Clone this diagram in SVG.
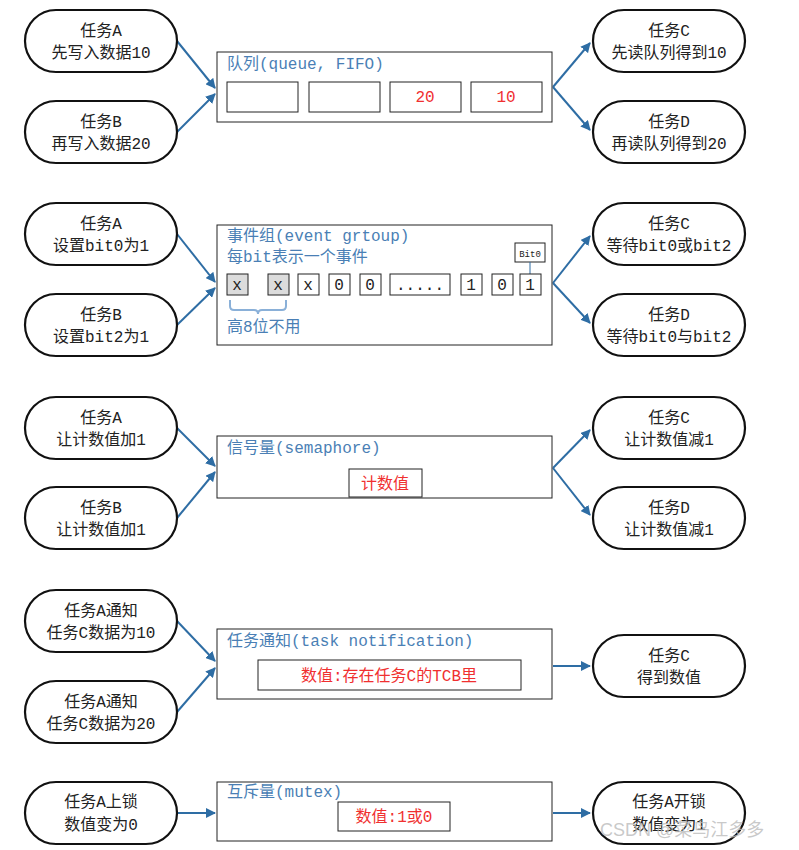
<svg xmlns="http://www.w3.org/2000/svg" width="799" height="850" viewBox="0 0 799 850">
<style>
text{font-family:"Liberation Mono","Noto Sans CJK SC",monospace;}
.n{fill:#fff;stroke:#111;stroke-width:2.2}
.nt{font-size:16px;fill:#222;text-anchor:middle}
.b{fill:#fff;stroke:#222;stroke-width:1}
.t{font-size:16px;fill:#4a7fb5}
.c{fill:#fff;stroke:#222;stroke-width:1}
.g{fill:#dcdcdc;stroke:#222;stroke-width:1}
.ct{font-size:16px;fill:#222;text-anchor:middle}
.r{font-size:16px;fill:#f03030;text-anchor:middle}
.a{stroke:#2e6da4;stroke-width:2;fill:none;marker-end:url(#ah)}
</style>
<defs><marker id="ah" markerWidth="10" markerHeight="10" refX="9" refY="5" orient="auto" markerUnits="userSpaceOnUse"><path d="M0,0 L10,5 L0,10 z" fill="#2e6da4"/></marker></defs>
<rect width="799" height="850" fill="#fff"/>
<g id="connectors">
<path class="a" d="M177,41 L215,88"/><path class="a" d="M177,132 L215,94"/>
<path class="a" d="M553,87 L590,43"/><path class="a" d="M553,87 L590,130"/>
<path class="a" d="M177,234 L215,282"/><path class="a" d="M177,325 L215,288"/>
<path class="a" d="M553,283 L590,236"/><path class="a" d="M553,283 L590,323"/>
<path class="a" d="M177,428 L215,466"/><path class="a" d="M177,518 L215,472"/>
<path class="a" d="M553,468 L590,430"/><path class="a" d="M553,468 L590,515"/>
<path class="a" d="M177,621 L215,661"/><path class="a" d="M177,712 L215,668"/>
<path class="a" d="M553,666 L590,666"/>
<path class="a" d="M177,813 L215,813"/><path class="a" d="M553,813 L590,813"/>
</g>
<g id="n1a"><rect class="n" x="25" y="10" width="152" height="62" rx="31"/><text class="nt" x="101" y="36">任务A</text><text class="nt" x="101" y="58">先写入数据10</text></g>
<g id="n1b"><rect class="n" x="25" y="101" width="152" height="62" rx="31"/><text class="nt" x="101" y="127">任务B</text><text class="nt" x="101" y="149">再写入数据20</text></g>
<g id="n1c"><rect class="n" x="593" y="10" width="152" height="62" rx="31"/><text class="nt" x="669" y="36">任务C</text><text class="nt" x="669" y="58">先读队列得到10</text></g>
<g id="n1d"><rect class="n" x="593" y="101" width="152" height="62" rx="31"/><text class="nt" x="669" y="127">任务D</text><text class="nt" x="669" y="149">再读队列得到20</text></g>
<g id="queue"><rect class="b" x="217" y="52" width="335" height="70"/><text class="t" x="227" y="69">队列(queue, FIFO)</text>
<rect class="c" x="227" y="82" width="71" height="30"/><rect class="c" x="309" y="82" width="71" height="30"/><rect class="c" x="390" y="82" width="71" height="30"/><rect class="c" x="471" y="82" width="71" height="30"/>
<text class="r" x="425" y="102">20</text><text class="r" x="506" y="102">10</text></g>

<g id="n2a"><rect class="n" x="25" y="203" width="152" height="62" rx="31"/><text class="nt" x="101" y="229">任务A</text><text class="nt" x="101" y="251">设置bit0为1</text></g>
<g id="n2b"><rect class="n" x="25" y="294" width="152" height="62" rx="31"/><text class="nt" x="101" y="320">任务B</text><text class="nt" x="101" y="342">设置bit2为1</text></g>
<g id="n2c"><rect class="n" x="593" y="203" width="152" height="62" rx="31"/><text class="nt" x="669" y="229">任务C</text><text class="nt" x="669" y="251">等待bit0或bit2</text></g>
<g id="n2d"><rect class="n" x="593" y="294" width="152" height="62" rx="31"/><text class="nt" x="669" y="320">任务D</text><text class="nt" x="669" y="342">等待bit0与bit2</text></g>
<g id="event"><rect class="b" x="217" y="225" width="335" height="120"/>
<text class="t" x="227" y="241">事件组(event grtoup)</text><text class="t" x="227" y="262">每bit表示一个事件</text>
<rect class="c" x="515" y="243" width="30" height="19"/><text x="530" y="257" font-size="9" text-anchor="middle" fill="#222">Bit0</text>
<line x1="530" y1="262" x2="530" y2="274" stroke="#2e6da4"/>
<rect class="g" x="227" y="274" width="21" height="21"/><rect class="g" x="268" y="274" width="21" height="21"/>
<rect class="c" x="298" y="274" width="21" height="21"/><rect class="c" x="329" y="274" width="21" height="21"/><rect class="c" x="360" y="274" width="21" height="21"/>
<rect class="c" x="390" y="274" width="60" height="21"/><rect class="c" x="461" y="274" width="21" height="21"/><rect class="c" x="492" y="274" width="21" height="21"/><rect class="c" x="520" y="274" width="21" height="21"/>
<text class="ct" x="237" y="290">x</text><text class="ct" x="278" y="290">x</text><text class="ct" x="308" y="290">x</text><text class="ct" x="339" y="290">0</text><text class="ct" x="370" y="290">0</text><text class="ct" x="420" y="290">.....</text><text class="ct" x="471" y="290">1</text><text class="ct" x="502" y="290">0</text><text class="ct" x="530" y="290">1</text>
<path d="M230,300 v6 q0,4 4,4 h20 q4,0 4,4 q0,-4 4,-4 h20 q4,0 4,-4 v-6" stroke="#8ab0d8" stroke-width="2" fill="none"/>
<text class="t" x="227" y="332">高8位不用</text></g>

<g id="n3a"><rect class="n" x="25" y="397" width="152" height="62" rx="31"/><text class="nt" x="101" y="423">任务A</text><text class="nt" x="101" y="445">让计数值加1</text></g>
<g id="n3b"><rect class="n" x="25" y="487" width="152" height="62" rx="31"/><text class="nt" x="101" y="513">任务B</text><text class="nt" x="101" y="535">让计数值加1</text></g>
<g id="n3c"><rect class="n" x="593" y="397" width="152" height="62" rx="31"/><text class="nt" x="669" y="423">任务C</text><text class="nt" x="669" y="445">让计数值减1</text></g>
<g id="n3d"><rect class="n" x="593" y="487" width="152" height="62" rx="31"/><text class="nt" x="669" y="513">任务D</text><text class="nt" x="669" y="535">让计数值减1</text></g>
<g id="sem"><rect class="b" x="217" y="436" width="335" height="62"/><text class="t" x="227" y="453">信号量(semaphore)</text>
<rect class="c" x="349" y="469" width="73" height="28"/><text class="r" x="385" y="489">计数值</text></g>

<g id="n4a"><rect class="n" x="25" y="590" width="152" height="62" rx="31"/><text class="nt" x="101" y="616">任务A通知</text><text class="nt" x="101" y="638">任务C数据为10</text></g>
<g id="n4b"><rect class="n" x="25" y="681" width="152" height="62" rx="31"/><text class="nt" x="101" y="707">任务A通知</text><text class="nt" x="101" y="729">任务C数据为20</text></g>
<g id="n4c"><rect class="n" x="593" y="635" width="152" height="62" rx="31"/><text class="nt" x="669" y="661">任务C</text><text class="nt" x="669" y="683">得到数值</text></g>
<g id="notify"><rect class="b" x="217" y="629" width="335" height="70"/><text class="t" x="227" y="646">任务通知(task notification)</text>
<rect class="c" x="258" y="660" width="263" height="30"/><text class="r" x="389" y="681">数值:存在任务C的TCB里</text></g>

<g id="n5a"><rect class="n" x="25" y="782" width="152" height="62" rx="31"/><text class="nt" x="101" y="807">任务A上锁</text><text class="nt" x="101" y="830">数值变为0</text></g>
<g id="n5c"><rect class="n" x="593" y="782" width="152" height="62" rx="31"/><text class="nt" x="669" y="807">任务A开锁</text><text class="nt" x="669" y="830">数值变为1</text></g>
<g id="mutex"><rect class="b" x="217" y="782" width="335" height="59"/><text class="t" x="227" y="797">互斥量(mutex)</text>
<rect class="c" x="338" y="802" width="112" height="29"/><text class="r" x="394" y="822">数值:1或0</text></g>
<text x="600" y="836" font-size="18" fill="#bbb" fill-opacity="0.8" style="font-family:'Liberation Sans','Noto Sans CJK SC',sans-serif">CSDN @菜鸟江多多</text>
</svg>
